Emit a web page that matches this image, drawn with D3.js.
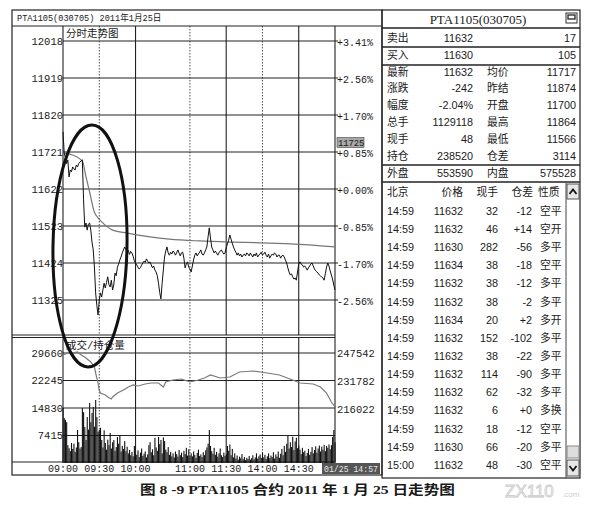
<!DOCTYPE html>
<html>
<head>
<meta charset="utf-8">
<script src="https://cdn.jsdelivr.net/npm/d3@7"></script>
<style>
  body { margin: 0; background: #fff; }
  text { font-family: "Liberation Mono", "Noto Sans CJK SC", monospace; fill: #1a1a1a; }
  .sans { font-family: "Liberation Sans", "Noto Sans CJK SC", sans-serif; }
</style>
</head>
<body>
<svg id="chart"></svg>
<script>
// values (one entry per trading minute, 09:00 .. 15:00)
const priceTicks = [12018, 11919, 11820, 11721, 11622, 11523, 11424, 11325];
const pctLabels = ['+3.41%', '+2.56%', '+1.70%', '+0.85%', '+0.00%', '-0.85%', '-1.70%', '-2.56%'];
const volTicks = [29660, 22245, 14830, 7415];
const oiTicks = [247542, 231782, 216022];
const timeLabels = ['09:00', '09:30', '10:00', '11:00', '11:30', '14:00', '14:30'];
const timeMinutes = [0, 30, 60, 105, 135, 165, 195];
const gridMinutes = [30, 60, 105, 135, 165, 195];

const priceValues = [
  11775, 11718, 11706, 11690, 11700, 11654, 11673, 11668, 11681, 11676,
  11673, 11686, 11681, 11690, 11694, 11697, 11700, 11593, 11520, 11531,
  11512, 11528, 11531, 11512, 11480, 11459, 11413, 11344, 11310, 11285,
  11325, 11344, 11333, 11352, 11370, 11357, 11372, 11387, 11366, 11360,
  11378, 11352, 11365, 11397, 11390, 11413, 11421, 11432, 11440, 11451,
  11459, 11467, 11460, 11453, 11458, 11447, 11455, 11451, 11442, 11430,
  11424, 11419, 11413, 11408, 11411, 11418, 11424, 11429, 11426, 11435,
  11429, 11424, 11427, 11419, 11411, 11416, 11405, 11400, 11390, 11370,
  11345, 11328, 11370, 11405, 11440, 11456, 11467, 11451, 11445, 11453,
  11448, 11456, 11453, 11445, 11451, 11459, 11451, 11443, 11451, 11453,
  11437, 11411, 11421, 11427, 11413, 11408, 11400, 11416, 11432, 11445,
  11451, 11443, 11448, 11453, 11459, 11448, 11445, 11451, 11459, 11467,
  11494, 11518, 11491, 11467, 11459, 11451, 11456, 11451, 11445, 11451,
  11456, 11459, 11453, 11448, 11451, 11464, 11475, 11485, 11499, 11488,
  11477, 11467, 11459, 11453, 11445, 11451, 11443, 11448, 11440, 11445,
  11448, 11443, 11451, 11448, 11443, 11451, 11445, 11440, 11448, 11443,
  11451, 11440, 11445, 11448, 11453, 11445, 11448, 11453, 11445, 11440,
  11448, 11437, 11443, 11448, 11445, 11451, 11448, 11440, 11445, 11445,
  11437, 11443, 11445, 11440, 11432, 11424, 11411, 11400, 11392, 11395,
  11387, 11381, 11384, 11378, 11400, 11421, 11427, 11421, 11419, 11413,
  11416, 11411, 11405, 11411, 11416, 11421, 11424, 11416, 11408, 11403,
  11400, 11397, 11392, 11389, 11387, 11384, 11378, 11395, 11413, 11424,
  11416, 11403, 11392, 11381, 11365, 11352
];

const avgMinutes = [0, 8, 16, 19, 22, 26, 29, 32, 37, 41, 53, 72, 88, 113, 138, 163, 188, 225];
const avgValues = [11718, 11713, 11697, 11655, 11614, 11560, 11545, 11534, 11520, 11512, 11504, 11494, 11488, 11483, 11480, 11478, 11475, 11467];

const volumeValues = [
  14830, 12100, 11600, 11000, 4800, 4000, 3200, 5400, 3800, 5200,
  3000, 4200, 8900, 5600, 3900, 4300, 14800, 13700, 9700, 6200,
  12400, 9000, 16200, 11000, 13500, 15100, 9800, 17000, 12400, 8400,
  8900, 9500, 6200, 4200, 8800, 5400, 3600, 6300, 4800, 8100,
  3900, 5600, 6200, 3300, 4300, 7000, 5200, 7500, 3100, 4600,
  3800, 5900, 3200, 4400, 2600, 3500, 2100, 3000, 1800, 4600,
  2400, 2200, 3400, 1600, 2800, 3900, 1900, 2500, 3100, 1500,
  2300, 4800, 5600, 2900, 3700, 2100, 6800, 4200, 3300, 7000,
  5100, 6200, 2600, 6900, 5900, 3600, 2900, 4300, 2200, 3000,
  1800, 2600, 1500, 3100, 2400, 1700, 3500, 2100, 2800, 1600,
  3300, 2400, 4100, 2000, 3700, 1900, 2600, 1800, 3100, 2200,
  1400, 2700, 3600, 1900, 2300, 1600, 2900, 2100, 3400, 4200,
  5200, 8900, 4600, 3200, 2500, 4100, 2200, 3000, 1700, 2600,
  3900, 2100, 1600, 2800, 1900, 2400, 4600, 3300, 5000, 2100,
  3800, 1500, 2600, 1200, 2000, 900, 1700, 1300, 2400, 1000,
  1600, 800, 1400, 1100, 1900, 900, 1300, 2100, 1000, 1500,
  2600, 1200, 1800, 2300, 1400, 2800, 1500, 2200, 1100, 1800,
  2600, 1300, 2000, 1600, 2900, 1200, 2300, 1700, 3100, 1400,
  2500, 3800, 2100, 4600, 3000, 5200, 7400, 3900, 5600, 4300,
  7100, 3500, 5800, 6800, 4000, 4700, 3600, 2400, 4100, 2900,
  3300, 1900, 2700, 3800, 2200, 3000, 4300, 2600, 3500, 4500,
  2800, 3900, 4700, 3100, 4400, 3600, 4900, 3200, 4600, 4100,
  5000, 3700, 4800, 7000, 8900, 5600
];

const oiMinutes = [0, 4, 8, 12, 15, 18, 21, 23, 26, 27, 29, 30, 31, 35, 37, 40, 41, 45, 50, 54, 58, 62, 68, 73, 79, 83, 85, 91, 98, 105, 112, 117, 122, 130, 138, 146, 157, 169, 179, 190, 196, 207, 213, 218, 222, 225];
const oiValues = [246418, 247544, 247544, 248107, 246418, 245293, 243604, 242478, 239664, 236286, 230657, 226717, 225028, 223903, 222777, 221651, 222777, 225028, 226717, 228406, 229531, 228969, 230094, 230657, 230657, 228406, 231220, 232346, 232909, 231220, 232346, 233472, 235161, 233472, 234035, 236849, 237412, 236286, 235161, 232346, 230657, 230094, 228406, 225028, 219962, 217148];

const quoteNames = ['卖出', '买入', '最新', '涨跌', '幅度', '总手', '现手', '持仓', '外盘'];
const quoteValues = ['11632', '11630', '11632', '-242', '-2.04%', '1129118', '48', '238520', '553590'];
const quoteNames2 = ['', '', '均价', '昨结', '开盘', '最高', '最低', '仓差', '内盘'];
const quoteValues2 = ['17', '105', '11717', '11874', '11700', '11864', '11566', '3114', '575528'];

const tradeHeader = ['北京', '价格', '现手', '仓差', '性质'];
const tradeTimes = ['14:59', '14:59', '14:59', '14:59', '14:59', '14:59', '14:59', '14:59', '14:59', '14:59', '14:59', '14:59', '14:59', '14:59', '15:00'];
const tradePrices = ['11632', '11632', '11630', '11634', '11632', '11632', '11634', '11632', '11632', '11632', '11632', '11632', '11632', '11630', '11632'];
const tradeVols = ['32', '46', '282', '38', '38', '38', '20', '152', '38', '114', '62', '6', '18', '66', '48'];
const tradeOi = ['-12', '+14', '-56', '-18', '-12', '-2', '+2', '-102', '-22', '-90', '-32', '+0', '-12', '-20', '-30'];
const tradeTypes = ['空平', '空开', '多平', '空平', '多平', '多平', '多开', '多平', '多平', '多平', '多平', '多换', '空平', '多平', '空平'];

const lastPrice = 11725;

let svg = d3.select('#chart').attr('width', 608).attr('height', 522);
svg.append('rect').attr('width', 608).attr('height', 522).attr('fill', '#fff');

let x = d3.scaleLinear().domain([0, 225]).range([63, 335]),
  py = d3.scaleLinear().domain([11325, 12018]).range([300, 41]),
  vy = d3.scaleLinear().domain([0, 29660]).range([463, 353]),
  oy = d3.scaleLinear().domain([216022, 247542]).range([409, 353]);

function hline(y, x1, x2, w) {
  svg.append('line').attr('x1', x1).attr('x2', x2).attr('y1', y).attr('y2', y)
    .attr('stroke', '#222').attr('stroke-width', w || 1);
}
function vline(xp, y1, y2, dash) {
  svg.append('line').attr('x1', xp).attr('x2', xp).attr('y1', y1).attr('y2', y2)
    .attr('stroke', '#222').attr('stroke-width', dash ? 0.8 : 1.1)
    .attr('stroke-dasharray', dash ? '1.5,1.5' : null);
}

// ---- left window frame
svg.append('rect').attr('x', 12).attr('y', 10).attr('width', 370).attr('height', 465)
  .attr('fill', 'none').attr('stroke', '#222').attr('stroke-width', 1.2);
hline(26, 12, 382, 1.2);
svg.append('text').attr('x', 17).attr('y', 21).attr('font-size', 8.6)
  .text('PTA1105(030705) 2011年1月25日');

vline(63, 26, 462);
vline(335, 26, 462);
hline(335, 12, 335, 1.2);
hline(337.5, 12, 335, 1.2);
hline(462, 12, 335, 1.2);

// vertical grid in both panels
gridMinutes.forEach((m, i) => {
  vline(x(m), 26, 335, i % 2 === 0);
  vline(x(m), 338, 462, i % 2 === 0);
});

// price panel grid + labels
priceTicks.forEach((p, i) => {
  hline(py(p), 63, 338, 1.1);
  svg.append('text').attr('x', 63).attr('y', py(p)).attr('dy', '0.35em')
    .attr('text-anchor', 'end').attr('font-size', 10.5).text(p);
  svg.append('text').attr('x', 337).attr('y', py(p) + 1).attr('dy', '0.35em')
    .attr('font-size', 10).text(pctLabels[i]);
});
svg.append('text').attr('x', 66).attr('y', 37).attr('font-size', 10.5).text('分时走势图');

// last price marker
svg.append('rect').attr('x', 337).attr('y', py(lastPrice) - 13).attr('width', 27).attr('height', 10)
  .attr('fill', '#a8a8a8').attr('stroke', '#444').attr('stroke-width', 0.6);
svg.append('text').attr('x', 338).attr('y', py(lastPrice) - 4.5).attr('font-size', 8.8).text(lastPrice);

// volume panel grid + labels
volTicks.forEach(v => {
  hline(vy(v), 63, 335, 1.1);
  svg.append('text').attr('x', 63).attr('y', vy(v)).attr('dy', '0.35em')
    .attr('text-anchor', 'end').attr('font-size', 10.5).text(v);
});
oiTicks.forEach(v => {
  svg.append('text').attr('x', 337).attr('y', oy(v)).attr('dy', '0.35em')
    .attr('font-size', 10.5).text(v);
});
svg.append('text').attr('x', 66).attr('y', 349).attr('font-size', 10.5).text('成交/持仓量');

// volume bars
svg.append('g').selectAll('rect').data(volumeValues).enter().append('rect')
  .attr('x', (d, i) => x(i) - 0.5)
  .attr('width', 1.1)
  .attr('y', d => vy(d))
  .attr('height', d => vy(0) - vy(d))
  .attr('fill', '#111');

// open interest line
let oiLine = d3.line().x(d => x(d[0])).y(d => oy(d[1]));
svg.append('path').datum(oiMinutes.map((m, i) => [m, oiValues[i]]))
  .attr('d', oiLine).attr('fill', 'none').attr('stroke', '#7a7a7a').attr('stroke-width', 1.2);

// average price line
let avgLine = d3.line().x(d => x(d[0])).y(d => py(d[1])).curve(d3.curveMonotoneX);
svg.append('path').datum(avgMinutes.map((m, i) => [m, avgValues[i]]))
  .attr('d', avgLine).attr('fill', 'none').attr('stroke', '#777').attr('stroke-width', 1.2);

// price line
let priceLine = d3.line().x((d, i) => x(i)).y(d => py(d));
svg.append('path').datum(priceValues)
  .attr('d', priceLine).attr('fill', 'none').attr('stroke', '#111').attr('stroke-width', 1);

// time axis
timeMinutes.forEach((m, i) => {
  svg.append('text').attr('x', x(m)).attr('y', 472).attr('text-anchor', 'middle')
    .attr('font-size', 10).text(timeLabels[i]);
});
svg.append('rect').attr('x', 322).attr('y', 463).attr('width', 58).attr('height', 11).attr('fill', '#555');
svg.append('text').attr('x', 324).attr('y', 471.5)
  .attr('font-size', 8.6).attr('textLength', 54).attr('lengthAdjust', 'spacingAndGlyphs')
  .style('fill', '#e8e8e8').text('01/25 14:57');

// hand drawn ellipse
svg.append('ellipse').attr('cx', 90).attr('cy', 246).attr('rx', 37).attr('ry', 121)
  .attr('transform', 'rotate(1,90,246)')
  .attr('fill', 'none').attr('stroke', '#111').attr('stroke-width', 3);

// ---- right quote panel
svg.append('rect').attr('x', 382).attr('y', 10).attr('width', 198).attr('height', 468)
  .attr('fill', 'none').attr('stroke', '#222').attr('stroke-width', 1.2);
svg.append('text').attr('x', 478).attr('y', 24).attr('text-anchor', 'middle')
  .style('font-family', '"Liberation Serif", serif').attr('font-size', 13).text('PTA1105(030705)');
svg.append('rect').attr('x', 566).attr('y', 13).attr('width', 11).attr('height', 10)
  .attr('fill', 'none').attr('stroke', '#333');
svg.append('rect').attr('x', 568).attr('y', 15).attr('width', 7).attr('height', 4)
  .attr('fill', 'none').attr('stroke', '#333').attr('stroke-width', 1.4);
[28, 47, 65, 165, 182].forEach(y => hline(y, 382, 580, 1.3));

quoteNames.forEach((n, i) => {
  let y = 38 + i * 16.9;
  let g = svg.append('g').attr('font-size', 10.8);
  g.append('text').attr('class', 'sans').attr('x', 387).attr('y', y).attr('dy', '0.35em').text(n);
  g.append('text').attr('class', 'sans').attr('x', 473).attr('y', y).attr('dy', '0.35em')
    .attr('text-anchor', 'end').text(quoteValues[i]);
  g.append('text').attr('class', 'sans').attr('x', 487).attr('y', y).attr('dy', '0.35em').text(quoteNames2[i]);
  g.append('text').attr('class', 'sans').attr('x', 576).attr('y', y).attr('dy', '0.35em')
    .attr('text-anchor', 'end').text(quoteValues2[i]);
});

// trade list
let colX = [387, 463, 498, 532, 540],
  colAnchor = ['start', 'end', 'end', 'end', 'start'];
let headX = [387, 463, 498, 533, 538];
tradeHeader.forEach((h, j) => {
  svg.append('text').attr('class', 'sans').attr('font-size', 10.8)
    .attr('x', headX[j]).attr('y', 192).attr('dy', '0.35em')
    .attr('text-anchor', colAnchor[j]).text(h);
});
tradeTimes.forEach((t, k) => {
  let y = 211 + k * 18.15,
    cells = [t, tradePrices[k], tradeVols[k], tradeOi[k], tradeTypes[k]];
  cells.forEach((c, j) => {
    svg.append('text').attr('class', 'sans').attr('font-size', 10.8)
      .attr('x', colX[j]).attr('y', y).attr('dy', '0.35em')
      .attr('text-anchor', colAnchor[j]).text(c);
  });
});

// scrollbar
svg.append('line').attr('x1', 566).attr('x2', 566).attr('y1', 183).attr('y2', 478).attr('stroke', '#444');
svg.append('rect').attr('x', 567).attr('y', 184).attr('width', 12).attr('height', 15)
  .attr('fill', '#e6e6e6').attr('stroke', '#555');
svg.append('path').attr('d', 'M569.5,194 L573,189.5 L576.5,194').attr('fill', 'none').attr('stroke', '#111').attr('stroke-width', 1.8);
svg.append('rect').attr('x', 567).attr('y', 446).attr('width', 12).attr('height', 12)
  .attr('fill', '#ddd').attr('stroke', '#888');
svg.append('rect').attr('x', 567).attr('y', 460).attr('width', 12).attr('height', 16)
  .attr('fill', '#e6e6e6').attr('stroke', '#555');
svg.append('path').attr('d', 'M569.5,466 L573,470.5 L576.5,466').attr('fill', 'none').attr('stroke', '#111').attr('stroke-width', 1.8);

// caption + watermark
svg.append('text').attr('x', 140).attr('y', 494)
  .style('font-family', '"Liberation Serif", "Noto Sans CJK SC", serif')
  .attr('font-weight', 'bold').attr('font-size', 13)
  .attr('textLength', 315).attr('lengthAdjust', 'spacingAndGlyphs')
  .text('图 8 -9   PTA1105 合约 2011 年 1 月 25 日走势图');
svg.append('text').attr('x', 505).attr('y', 497).attr('font-size', 17)
  .style('font-family', '"Liberation Sans", sans-serif')
  .style('fill', 'none').attr('stroke', '#c8c8c8').attr('stroke-width', 0.8).text('ZX110');
svg.append('text').attr('x', 562).attr('y', 497).attr('font-size', 8)
  .style('font-family', '"Liberation Sans", sans-serif')
  .style('fill', '#ccc').text('.com');
</script>
</body>
</html>
